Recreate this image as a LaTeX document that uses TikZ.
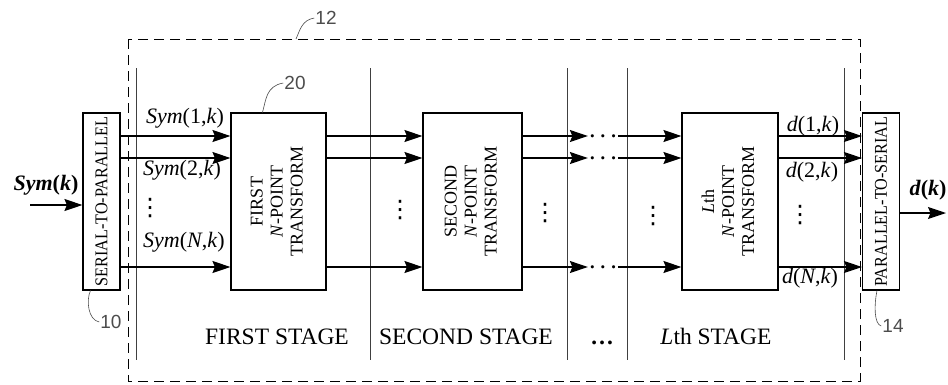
\documentclass[tikz,border=0pt]{standalone}
\usepackage{fontspec}
\setmainfont{Liberation Serif}
\newfontfamily\refnum{Liberation Sans}
\newfontfamily\symf{DejaVu Sans}
\usetikzlibrary{arrows.meta}

\newcommand{\boxtext}[1]{\rotatebox{90}{\begin{tabular}{@{}c@{}}#1\end{tabular}}}
\newcommand{\convtext}[1]{\rotatebox{90}{\scalebox{0.9}[1]{#1}}}

\begin{document}
\begin{tikzpicture}[x=1pt,y=-1pt,
  block/.style={draw,line width=1.1pt,inner sep=0pt,minimum height=177pt,
    font=\fontsize{18}{20}\selectfont},
  conv/.style={draw,line width=1.1pt,inner sep=0pt,minimum width=37pt,
    minimum height=177pt,font=\fontsize{18}{20}\selectfont},
  sig/.style={line width=1.2pt,-{Stealth[length=18pt,width=12pt,inset=2.5pt]}},
  lbl/.style={font=\fontsize{22}{24}\selectfont},
  stage/.style={font=\fontsize{23.5}{26}\selectfont,anchor=base},
  dots/.style={font=\fontsize{20}{22}\selectfont\boldmath,inner sep=1pt,anchor=base},
  vdts/.style={font=\symf\fontsize{24}{26}\selectfont,inner sep=1pt},
  sep/.style={line width=0.7pt,black!75},
  unit/.style={line width=0.9pt,dash pattern=on 10pt off 6pt},
  lead/.style={line width=0.6pt,black!70},
  refno/.style={font=\refnum\fontsize{19}{20}\selectfont,text=black!70,inner sep=1pt}]
\useasboundingbox (0,0) rectangle (948,384);

% enclosing unit 12 and stage separators
\draw[unit] (128,39) rectangle (860,381);
\coordinate (u12) at (296,39);
\foreach \x in {136,370,567,627,844}
  \draw[sep] (\x,68) -- (\x,360);

% blocks
\node[conv] (sp) at (101.5,201.5) {\convtext{SERIAL-TO-PARALLEL}};
\node[block,minimum width=95pt] (t1) at (278.5,201.5)
  {\boxtext{FIRST\\\textit{N}-POINT\\TRANSFORM}};
\node[block,minimum width=99pt] (t2) at (472.5,201.5)
  {\boxtext{SECOND\\\textit{N}-POINT\\TRANSFORM}};
\node[block,minimum width=96pt] (tL) at (730,201.5)
  {\boxtext{\textit{L}th\\\textit{N}-POINT\\TRANSFORM}};
\node[conv] (ps) at (881,201.5) {\convtext{PARALLEL-TO-SERIAL}};

% row levels
\coordinate (r1) at (0,136);
\coordinate (r2) at (0,158);
\coordinate (rN) at (0,267);
\coordinate (gap) at (603,0);

\foreach \r in {r1,r2,rN} {
  \draw[sig] (sp.east |- \r) -- (t1.west |- \r);
  \draw[sig] (t1.east |- \r) -- (t2.west |- \r);
  \node[dots,yshift=-5pt] (gap-\r) at (gap |- \r) {$\cdots$};
  \draw[sig] (t2.east |- \r) -- (gap-\r.west |- \r);
  \draw[sig] (gap-\r.east |- \r) -- (tL.west |- \r);
  \draw[sig] (tL.east |- \r) -- (ps.west |- \r);
}

% input and output
\coordinate (src) at (30,205);
\coordinate (dst) at (946,213);
\draw[sig] (src) -- (sp.west |- src);
\draw[sig] (ps.east |- dst) -- (dst);
\node[lbl] (sk) at (46,185) {\textbf{\textit{Sym}(\textit{k})}};
\node[lbl] (dk) at (928,190) {\textbf{\textit{d}(\textit{k})}};

% signal labels
\node[lbl] (s1) at (185,118) {\textit{Sym}(1,\textit{k})};
\node[lbl] (s2) at (182,170) {\textit{Sym}(2,\textit{k})};
\node[lbl] (sN) at (184,242) {\textit{Sym}(\textit{N},\textit{k})};
\node[lbl] (d1) at (813,126) {\textit{d}(1,\textit{k})};
\node[lbl] (d2) at (812,172) {\textit{d}(2,\textit{k})};
\node[lbl] (dN) at (810,278) {\textit{d}(\textit{N},\textit{k})};

% vertical dots
\node[vdts] (v1) at (150,208) {⋮};
\node[vdts] (v2) at (400,210) {⋮};
\node[vdts] (v3) at (545,213) {⋮};
\node[vdts] (v4) at (653,216) {⋮};
\node[vdts] (v5) at (800,215) {⋮};

% stage names
\node[stage] (st1) at (277,344) {FIRST STAGE};
\node[stage] (st2) at (466,344) {SECOND STAGE};
\node[stage] (st3) at (602,344) {\textbf{\ldots}};
\node[stage] (stL) at (716,344) {\textit{L}th STAGE};

% reference numerals
\node[refno] (n12) at (326,18) {12};
\node[refno] (n20) at (295,83) {20};
\node[refno] (n10) at (111,322) {10};
\node[refno] (n14) at (893,326) {14};
\draw[lead] (u12) .. controls (300,30) and (302,20) .. (n12.west);
\draw[lead] ([xshift=-16pt]t1.north) .. controls (266,100) and (266,86) .. (n20.west);
\draw[lead] ([xshift=-11pt]sp.south) .. controls (86,300) and (88,320) .. (n10.west);
\draw[lead] ([xshift=-4pt]ps.south) .. controls (874,305) and (874,324) .. (n14.west);
\end{tikzpicture}
\end{document}
